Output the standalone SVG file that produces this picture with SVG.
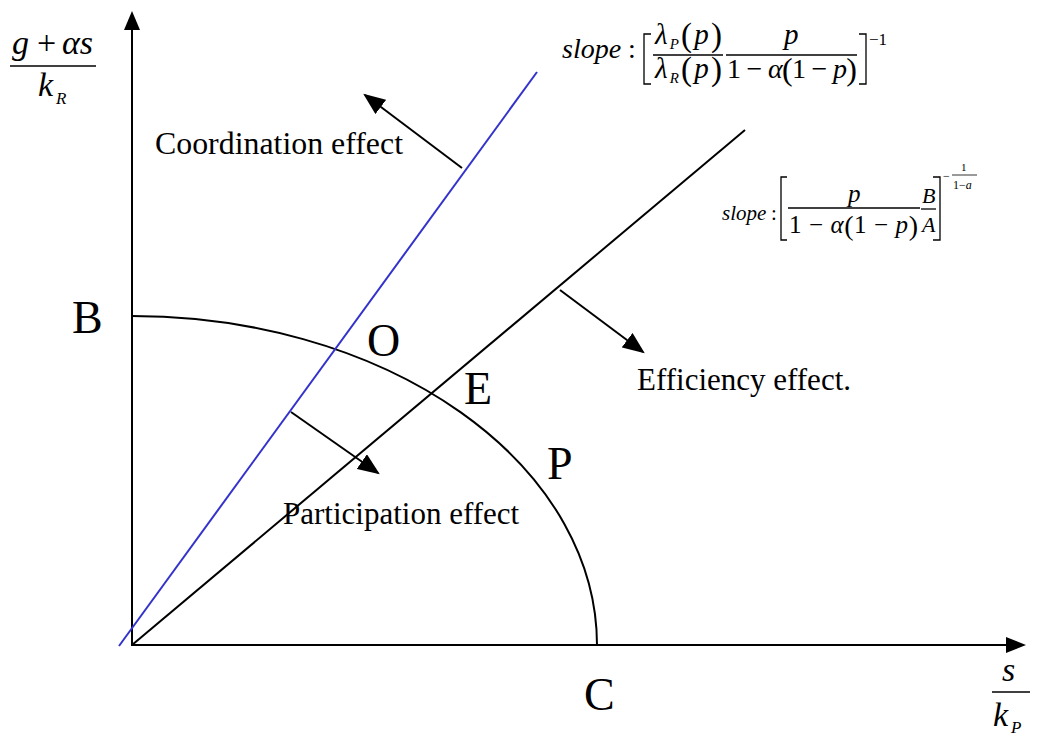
<svg xmlns="http://www.w3.org/2000/svg" width="1037" height="735" viewBox="0 0 1037 735">
<defs>
<marker id="ahs" viewBox="0 0 10 10" refX="9" refY="5" markerWidth="22" markerHeight="18" markerUnits="userSpaceOnUse" orient="auto" preserveAspectRatio="none"><path d="M0,0 L10,5 L0,10 z" fill="#000"/></marker>
</defs>
<style>
text{font-family:"Liberation Serif","Times New Roman",serif;fill:#000}
.lbl{font-size:31px}
.big{font-size:46px}
.it{font-style:italic}
.ln{stroke:#000;stroke-width:2;fill:none}
.thin{stroke:#000;stroke-width:1.3;fill:none}
</style>
<rect width="1037" height="735" fill="#fff"/>
<g id="axes">
<line class="ln" x1="132" y1="646" x2="132" y2="28"/>
<path d="M124,30 L132,11 L140,30 z" fill="#000"/>
<line class="ln" x1="131" y1="645" x2="1008" y2="645"/>
<path d="M1006,637 L1026,645 L1006,653 z" fill="#000"/>
</g>
<g id="connectors">
<path class="ln" d="M132,316 A465,329 0 0 1 597,645"/>
<line x1="119" y1="646" x2="537" y2="72" stroke="#3333cc" stroke-width="2"/>
<line class="ln" x1="132" y1="645" x2="745" y2="130"/>
<line class="ln" x1="462" y1="168" x2="365" y2="95" marker-end="url(#ahs)"/>
<line class="ln" x1="291" y1="412" x2="378" y2="473" marker-end="url(#ahs)"/>
<line class="ln" x1="560" y1="290" x2="643" y2="352" marker-end="url(#ahs)"/>
</g>
<g id="labels">
<text class="lbl" x="155" y="154" textLength="248" lengthAdjust="spacingAndGlyphs">Coordination effect</text>
<text class="lbl" x="283" y="524">Participation effect</text>
<text class="lbl" x="637" y="390">Efficiency effect.</text>
<text class="big" x="72" y="333">B</text>
<text class="big" x="367" y="356">O</text>
<text class="big" x="464" y="404">E</text>
<text class="big" x="547" y="479">P</text>
<text class="big" x="584" y="710">C</text>
</g>
<g id="yaxis-label">
<text class="it" x="12" y="54" font-size="34">g</text>
<text x="37" y="54" font-size="34">+</text>
<text class="it" x="62" y="54" font-size="34">αs</text>
<line class="thin" x1="10" y1="66" x2="96" y2="66"/>
<text class="it" x="38" y="96" font-size="34">k</text>
<text class="it" x="56" y="104" font-size="17">R</text>
</g>
<g id="xaxis-label">
<text class="it" x="1002" y="681" font-size="34">s</text>
<line class="thin" x1="992" y1="692" x2="1030" y2="692"/>
<text class="it" x="993" y="726" font-size="34">k</text>
<text class="it" x="1011" y="733" font-size="17">P</text>
</g>
<g id="slope1">
<text class="it" x="562" y="58" font-size="28">slope</text>
<text x="628" y="58" font-size="28">:</text>
<path class="thin" d="M651,34 L644,34 L644,84 L651,84"/>
<text x="655" y="44" font-size="29" textLength="67" lengthAdjust="spacing"><tspan class="it">λ</tspan><tspan class="it" font-size="15" dy="5">P</tspan><tspan font-size="33" dy="-3">(</tspan><tspan class="it" font-size="29" dy="-2">p</tspan><tspan font-size="33" dy="2">)</tspan></text>
<line class="thin" x1="653" y1="55" x2="723" y2="55"/>
<text x="655" y="78" font-size="29" textLength="67" lengthAdjust="spacing"><tspan class="it">λ</tspan><tspan class="it" font-size="15" dy="5">R</tspan><tspan font-size="33" dy="-3">(</tspan><tspan class="it" font-size="29" dy="-2">p</tspan><tspan font-size="33" dy="2">)</tspan></text>
<text class="it" x="784" y="44" font-size="29">p</text>
<line class="thin" x1="726" y1="55" x2="857" y2="55"/>
<text x="727" y="78" font-size="28" textLength="130" lengthAdjust="spacing">1 − <tspan class="it">α</tspan><tspan font-size="32" dy="2">(</tspan><tspan dy="-2">1 − </tspan><tspan class="it">p</tspan><tspan font-size="32" dy="2">)</tspan></text>
<path class="thin" d="M859,34 L866,34 L866,84 L859,84"/>
<text x="869" y="45" font-size="17">−1</text>
</g>
<g id="slope2">
<text class="it" x="722" y="220" font-size="21">slope</text>
<text x="771" y="220" font-size="21">:</text>
<path class="thin" d="M787,177 L781,177 L781,240 L787,240"/>
<text class="it" x="848" y="202" font-size="25">p</text>
<line class="thin" x1="788" y1="208" x2="920" y2="208"/>
<text x="789" y="233" font-size="25" textLength="129" lengthAdjust="spacing">1 − <tspan class="it">α</tspan><tspan font-size="28" dy="2">(</tspan><tspan dy="-2">1 − </tspan><tspan class="it">p</tspan><tspan font-size="28" dy="2">)</tspan></text>
<text class="it" x="922" y="203" font-size="22">B</text>
<line class="thin" x1="921" y1="209" x2="936" y2="209"/>
<text class="it" x="922" y="232" font-size="22">A</text>
<path class="thin" d="M933,177 L940,177 L940,240 L933,240"/>
<text x="943" y="180" font-size="12">−</text>
<text x="961" y="171" font-size="11">1</text>
<line x1="952" y1="175" x2="977" y2="175" stroke="#000" stroke-width="0.8"/>
<text x="953" y="189" font-size="12">1−<tspan class="it">a</tspan></text>
</g>
</svg>
